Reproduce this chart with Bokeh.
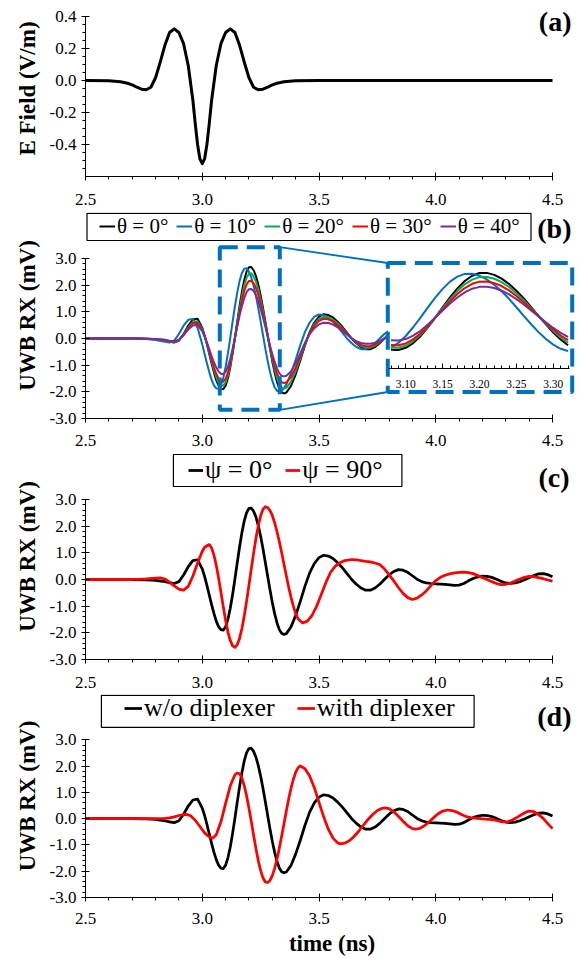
import numpy as np
from bokeh.plotting import figure
from bokeh.models import (Range1d, LinearAxis, SingleIntervalTicker, NumeralTickFormatter,
                          Legend, LegendItem, Label)
from bokeh.layouts import column
from bokeh.embed import file_html
from bokeh.resources import INLINE

SERIF = "'Liberation Serif', 'Times New Roman', serif"
BLACK = "#000000"
BLUE = "#0070C0"
GREEN = "#00B050"
RED = "#FF0000"
PURPLE = "#7030A0"

# ---------------- data ----------------
# (a) incident E field
t_a = [2.50, 2.60, 2.65, 2.68, 2.70, 2.72, 2.74, 2.76, 2.78, 2.80, 2.82, 2.84, 2.86, 2.88,
       2.90, 2.92, 2.94, 2.96, 2.97, 2.98, 2.99, 3.00, 3.01, 3.02, 3.03, 3.04, 3.06, 3.08,
       3.10, 3.12, 3.14, 3.16, 3.18, 3.20, 3.22, 3.24, 3.26, 3.28, 3.30, 3.32, 3.35, 3.40,
       3.50, 4.50]
e_a = [0.000, -0.002, -0.008, -0.017, -0.027, -0.042, -0.054, -0.058, -0.042, 0.017, 0.115,
       0.220, 0.300, 0.323, 0.300, 0.230, 0.094, -0.125, -0.270, -0.400, -0.490, -0.520,
       -0.490, -0.400, -0.270, -0.125, 0.094, 0.230, 0.300, 0.323, 0.300, 0.220, 0.115,
       0.017, -0.042, -0.058, -0.054, -0.042, -0.027, -0.017, -0.008, -0.002, 0.000, 0.000]

# time grid of the theta curves (b)
t_b = [2.50, 2.60, 2.70, 2.76, 2.80, 2.84, 2.86, 2.88, 2.90, 2.92, 2.94, 2.96, 2.98,
       3.00, 3.01, 3.02, 3.03, 3.04, 3.05, 3.06, 3.07, 3.08, 3.09, 3.10, 3.11, 3.12,
       3.13, 3.14, 3.15, 3.16, 3.17, 3.18, 3.19, 3.20, 3.21, 3.22, 3.23, 3.24, 3.25,
       3.26, 3.27, 3.28, 3.29, 3.30, 3.31, 3.32, 3.33, 3.34, 3.35, 3.36,
       3.38, 3.40, 3.42, 3.44, 3.46, 3.48, 3.50, 3.52, 3.54, 3.56, 3.58, 3.60, 3.62,
       3.64, 3.66, 3.68, 3.70, 3.72, 3.74, 3.76, 3.78, 3.80]
# black reference curve grid (theta = 0, psi = 0, w/o diplexer)
t_0 = t_b + [3.82, 3.84, 3.86, 3.88, 3.90, 3.92, 3.94, 3.96, 3.98, 4.00, 4.02, 4.04, 4.06,
             4.08, 4.10, 4.12, 4.14, 4.16, 4.18, 4.20, 4.22, 4.24, 4.26, 4.28, 4.30, 4.32,
             4.34, 4.36, 4.38, 4.40, 4.42, 4.44, 4.46, 4.48, 4.50]
rx_0 = [0.00, 0.00, 0.00, -0.01, -0.03, -0.08, -0.12, -0.15, -0.08, 0.17, 0.48, 0.71, 0.74,
        0.40, 0.12, -0.22, -0.58, -0.94, -1.27, -1.56, -1.77, -1.88, -1.90, -1.77, -1.49, -1.08,
        -0.56, 0.02, 0.64, 1.23, 1.76, 2.20, 2.51, 2.67, 2.68, 2.56, 2.34, 2.02, 1.62,
        1.16, 0.65, 0.13, -0.38, -0.86, -1.28, -1.62, -1.88, -2.02, -2.06, -2.03,
        -1.78, -1.35, -0.82, -0.25, 0.25, 0.60, 0.82, 0.91, 0.88, 0.79, 0.63, 0.44, 0.22,
        0.00, -0.18, -0.32, -0.40, -0.40, -0.32, -0.18, 0.00, 0.17,
        0.30, 0.37, 0.35, 0.27, 0.14, 0.01, -0.08, -0.13, -0.15, -0.16, -0.17, -0.18, -0.20,
        -0.22, -0.21, -0.15, -0.05, 0.04, 0.10, 0.13, 0.12, 0.08, 0.01, -0.07, -0.13, -0.15,
        -0.13, -0.08, -0.01, 0.07, 0.15, 0.21, 0.22, 0.18, 0.10]
rx_10 = [0.00, 0.00, 0.00, -0.02, -0.06, -0.12, -0.15, -0.08, 0.17, 0.48, 0.70, 0.73, 0.40,
         -0.22, -0.58, -0.93, -1.26, -1.55, -1.76, -1.87, -1.89, -1.76, -1.48, -1.07, -0.55, 0.02,
         0.63, 1.21, 1.73, 2.16, 2.46, 2.62, 2.63, 2.51, 2.29, 1.98, 1.59, 1.14, 0.64,
         0.13, -0.37, -0.84, -1.25, -1.58, -1.83, -1.96, -2.00, -1.97, -1.86, -1.73,
         -1.31, -0.80, -0.25, 0.25, 0.60, 0.82, 0.90, 0.88, 0.79, 0.63, 0.44, 0.22, 0.00,
         -0.18, -0.32, -0.40, -0.40, -0.32, -0.18, 0.00, 0.17, 0.30]
rx_20 = [0.00, 0.00, 0.00, -0.01, -0.03, -0.07, -0.11, -0.14, -0.07, 0.15, 0.42, 0.62, 0.65,
         0.35, 0.10, -0.20, -0.54, -0.87, -1.18, -1.45, -1.65, -1.75, -1.77, -1.65, -1.38, -1.00,
         -0.52, 0.02, 0.58, 1.12, 1.60, 2.00, 2.28, 2.43, 2.44, 2.33, 2.13, 1.84, 1.47,
         1.06, 0.59, 0.12, -0.35, -0.78, -1.16, -1.47, -1.71, -1.84, -1.87, -1.85,
         -1.62, -1.23, -0.75, -0.23, 0.22, 0.54, 0.73, 0.81, 0.79, 0.71, 0.57, 0.39, 0.19,
         0.00, -0.16, -0.28, -0.34, -0.34, -0.27, -0.15, 0.00, 0.15]
rx_30 = [0.00, 0.00, 0.00, -0.01, -0.02, -0.06, -0.10, -0.12, -0.06, 0.14, 0.39, 0.57, 0.59,
         0.32, 0.09, -0.18, -0.49, -0.80, -1.08, -1.33, -1.50, -1.60, -1.62, -1.51, -1.27, -0.92,
         -0.48, 0.02, 0.52, 1.00, 1.43, 1.78, 2.03, 2.16, 2.17, 2.07, 1.90, 1.64, 1.31,
         0.94, 0.53, 0.11, -0.31, -0.70, -1.04, -1.31, -1.52, -1.64, -1.67, -1.65,
         -1.45, -1.10, -0.67, -0.20, 0.20, 0.49, 0.66, 0.74, 0.72, 0.64, 0.51, 0.36, 0.18,
         0.00, -0.14, -0.24, -0.29, -0.29, -0.23, -0.13, 0.00, 0.13]
rx_40 = [0.00, 0.00, 0.00, -0.01, -0.02, -0.05, -0.08, -0.10, -0.05, 0.12, 0.34, 0.49, 0.51,
         0.28, 0.08, -0.15, -0.40, -0.66, -0.89, -1.09, -1.24, -1.32, -1.34, -1.25, -1.05, -0.76,
         -0.38, 0.03, 0.45, 0.86, 1.22, 1.52, 1.74, 1.85, 1.86, 1.78, 1.62, 1.40, 1.12,
         0.80, 0.45, 0.09, -0.26, -0.59, -0.88, -1.12, -1.30, -1.40, -1.42, -1.40,
         -1.24, -0.94, -0.56, -0.16, 0.16, 0.39, 0.53, 0.59, 0.58, 0.52, 0.42, 0.29, 0.14,
         0.00, -0.10, -0.17, -0.20, -0.20, -0.16, -0.09, 0.00, 0.09]

# (c) psi = 90 deg
t_c = [2.50, 2.60, 2.70, 2.76, 2.80, 2.82, 2.84, 2.86, 2.88, 2.90, 2.92, 2.94, 2.96, 2.98,
       3.00, 3.01, 3.03, 3.04, 3.05, 3.06, 3.07, 3.08, 3.09, 3.10, 3.11, 3.12, 3.13, 3.14,
       3.15, 3.16, 3.17, 3.18, 3.19, 3.20, 3.21, 3.22, 3.23, 3.24, 3.25, 3.26, 3.27, 3.28,
       3.29, 3.30, 3.31, 3.32, 3.33, 3.34, 3.35, 3.36, 3.37, 3.38, 3.39, 3.40, 3.41, 3.43,
       3.45, 3.47, 3.49, 3.51, 3.53, 3.55, 3.57, 3.59, 3.61, 3.64, 3.66, 3.68, 3.70, 3.72,
       3.74, 3.76, 3.78, 3.80, 3.82, 3.84, 3.86, 3.88, 3.90, 3.92, 3.94, 3.96, 3.98, 4.00,
       4.02, 4.04, 4.06, 4.08, 4.10, 4.12, 4.14, 4.16, 4.18, 4.20, 4.22, 4.24, 4.26, 4.28,
       4.30, 4.32, 4.34, 4.36, 4.38, 4.40, 4.42, 4.44, 4.46, 4.48, 4.50]
rx_90 = [0.00, 0.00, 0.00, 0.02, 0.05, 0.06, 0.02, -0.10, -0.24, -0.36, -0.40, -0.26, 0.13, 0.62,
         1.06, 1.21, 1.31, 1.18, 0.92, 0.53, 0.05, -0.48, -1.02, -1.53, -1.97, -2.29, -2.49, -2.54,
         -2.44, -2.20, -1.83, -1.36, -0.81, -0.21, 0.40, 1.00, 1.55, 2.02, 2.39, 2.63, 2.73, 2.70,
         2.59, 2.40, 2.13, 1.80, 1.42, 1.01, 0.57, 0.14, -0.28, -0.66, -1.00, -1.27, -1.47, -1.63,
         -1.56, -1.35, -1.00, -0.55, -0.10, 0.28, 0.50, 0.63, 0.71, 0.75, 0.74, 0.71, 0.68, 0.66,
         0.62, 0.56, 0.40, 0.18, -0.05, -0.30, -0.52, -0.68, -0.75, -0.70, -0.58, -0.42, -0.22, -0.04,
         0.08, 0.16, 0.21, 0.25, 0.27, 0.275, 0.26, 0.22, 0.15, 0.07, 0.00, -0.08, -0.15, -0.19,
         -0.18, -0.13, -0.06, 0.02, 0.08, 0.12, 0.11, 0.07, 0.03, -0.02, -0.06]

# (d) with diplexer
t_d = [2.50, 2.60, 2.70, 2.80, 2.84, 2.86, 2.88, 2.90, 2.92, 2.935, 2.95, 2.97, 2.99, 3.01,
       3.03, 3.045, 3.06, 3.08, 3.10, 3.12, 3.14, 3.15, 3.16, 3.17, 3.18, 3.19, 3.20, 3.21,
       3.22, 3.23, 3.24, 3.25, 3.26, 3.27, 3.28, 3.29, 3.30, 3.31, 3.32, 3.33, 3.34, 3.35,
       3.36, 3.37, 3.38, 3.39, 3.40, 3.41, 3.42, 3.44, 3.46, 3.48, 3.50, 3.52, 3.54, 3.56,
       3.58, 3.593, 3.61, 3.63, 3.65, 3.67, 3.69, 3.71, 3.73, 3.75, 3.77, 3.783, 3.80, 3.82,
       3.84, 3.86, 3.88, 3.90, 3.914, 3.93, 3.95, 3.97, 3.99, 4.01, 4.03, 4.05, 4.07, 4.09,
       4.11, 4.13, 4.15, 4.17, 4.19, 4.21, 4.23, 4.25, 4.27, 4.29, 4.31, 4.33, 4.35, 4.37,
       4.39, 4.40, 4.42, 4.44, 4.46, 4.48, 4.50]
rx_dip = [0.00, 0.00, 0.00, 0.00, 0.01, 0.03, 0.07, 0.12, 0.155, 0.16, 0.11, -0.06, -0.30, -0.54,
          -0.70, -0.74, -0.61, -0.12, 0.58, 1.25, 1.67, 1.74, 1.71, 1.54, 1.25, 0.86, 0.40, -0.11,
          -0.63, -1.14, -1.60, -1.97, -2.25, -2.41, -2.43, -2.35, -2.17, -1.89, -1.54, -1.13, -0.67, -0.19,
          0.28, 0.75, 1.15, 1.49, 1.76, 1.93, 2.01, 1.90, 1.62, 1.18, 0.62, 0.07, -0.40, -0.74,
          -0.92, -0.96, -0.93, -0.84, -0.68, -0.48, -0.25, -0.03, 0.16, 0.31, 0.395, 0.41, 0.38, 0.26,
          0.09, -0.10, -0.27, -0.38, -0.40, -0.375, -0.28, -0.135, 0.03, 0.185, 0.29, 0.33, 0.31, 0.25,
          0.16, 0.08, 0.04, 0.02, 0.00, -0.02, -0.03, -0.05, -0.09, -0.12, -0.11, -0.04, 0.06, 0.17,
          0.26, 0.29, 0.27, 0.16, 0.01, -0.19, -0.38]

theta_labels = ["θ = 0°", "θ = 10°", "θ = 20°", "θ = 30°", "θ = 40°"]
psi_labels = ["ψ = 0°", "ψ = 90°"]
dip_labels = ["w/o diplexer", "with diplexer"]
panel_tags = ["(a)", "(b)", "(c)", "(d)"]

# zoomed window shown in the inset of (b)
ZOOM_T = (3.077, 3.322)

# ---------------- layout ----------------
FIG_W = 584
BORDER_L = 85
BORDER_R = 6
FRAME_W = FIG_W - BORDER_L - BORDER_R
PX_NS = 233.5
X0 = 2.5
X1 = X0 + FRAME_W / PX_NS
U = 160.0 / 6


def to_x(px):  # page px -> time
    return X0 + (px - BORDER_L) / PX_NS


def style_axis(ax, fs="17px"):
    ax.axis_line_color = "black"
    ax.axis_line_width = 1
    ax.major_tick_in = 4
    ax.major_tick_out = 4
    ax.minor_tick_in = 0
    ax.minor_tick_out = 3
    ax.major_tick_line_color = "black"
    ax.minor_tick_line_color = "black"
    ax.major_label_text_font = SERIF
    ax.major_label_text_font_size = fs
    ax.major_label_text_color = "black"
    ax.axis_label_text_font = SERIF
    ax.axis_label_text_font_style = "bold"
    ax.axis_label_text_font_size = "23px"
    ax.axis_label_text_color = "black"


def make_fig(height, border_bottom, y_lo, px_unit, y_bounds, y_int, y_minor, ylabel,
             xlabel=None, x_standoff=12):
    frame_h = height - border_bottom
    y_hi = y_lo + frame_h / px_unit
    p = figure(width=FIG_W, height=height, x_range=Range1d(X0, X1), y_range=Range1d(y_lo, y_hi),
               output_backend="svg", toolbar_location=None,
               min_border_left=BORDER_L, min_border_right=BORDER_R,
               min_border_top=0, min_border_bottom=border_bottom,
               outline_line_color=None, background_fill_color="white", border_fill_color="white")
    p.grid.visible = False
    xa = p.xaxis[0]
    ya = p.yaxis[0]
    style_axis(xa)
    style_axis(ya)
    xa.ticker = SingleIntervalTicker(interval=0.5, num_minor_ticks=5)
    xa.formatter = NumeralTickFormatter(format="0.0")
    xa.bounds = (2.5, 4.5)
    xa.major_label_standoff = x_standoff
    ya.ticker = SingleIntervalTicker(interval=y_int, num_minor_ticks=y_minor)
    ya.formatter = NumeralTickFormatter(format="0.0")
    ya.bounds = y_bounds
    ya.major_label_standoff = 5
    ya.axis_label = ylabel
    ya.axis_label_standoff = 7
    if xlabel:
        xa.axis_label = xlabel
        xa.axis_label_standoff = 4
    return p, frame_h


def tag(p, text, x, y):
    p.add_layout(Label(x=x, y=y, text=text, text_font=SERIF, text_font_style="bold",
                       text_font_size="28px", text_align="right", text_baseline="middle",
                       text_color="black"))


def legend_box(p, l, r, b, t):
    p.quad(left=[l], right=[r], bottom=[b], top=[t], fill_color=None,
           line_color="black", line_width=1.2)


def make_legend(p, items, loc, fs, h, gw, spacing):
    leg = Legend(items=items, orientation="horizontal", location=loc,
                 glyph_width=gw, glyph_height=h, label_height=h, label_standoff=2,
                 spacing=spacing, padding=0, margin=0,
                 border_line_alpha=0, background_fill_alpha=0,
                 label_text_font=SERIF, label_text_font_size=fs, label_text_color="black")
    p.add_layout(leg)


theta_colors = [BLACK, BLUE, GREEN, RED, PURPLE]

# ---- (a)  page rows 0..212, frame 0..176
pa, _ = make_fig(212, 36, -0.6, 160.0, (-0.6, 0.4), 0.2, 4, "E Field (V/m)", x_standoff=13)
pa.line(t_a, e_a, line_color=BLACK, line_width=3, line_join="round")
tag(pa, panel_tags[0], to_x(571), -0.6 + (176 - 20.5) / 160.0)

# ---- (b)  page rows 212..453, frame 212..418 (legend row inside the frame)
pb, fhb = make_fig(241, 35, -3.0, U, (-3.0, 3.0), 1.0, 5, "UWB RX (mV)")
rend_b = [pb.line(t_0, rx_0, line_color=BLACK, line_width=2, line_join="round")]
for ys, c in zip([rx_10, rx_20, rx_30, rx_40], theta_colors[1:]):
    rend_b.append(pb.line(t_b, ys, line_color=c, line_width=2, line_join="round"))

# inset geometry (frame px)
in_px0, in_px1 = 388.3 - BORDER_L, 569.0 - BORDER_L
kx = (in_px1 - in_px0) / (ZOOM_T[1] - ZOOM_T[0])
ix0 = ZOOM_T[0] - in_px0 / kx
ix1 = ix0 + FRAME_W / kx
ky = 101.0 / 6
iy0 = -3.0 - 50.0 / ky
iy1 = iy0 + fhb / ky
pb.extra_x_ranges = {"ix": Range1d(ix0, ix1)}
pb.extra_y_ranges = {"iy": Range1d(iy0, iy1)}

box_in = dict(left=[to_x(387.3)], right=[to_x(571.7)], bottom=[-2.006], top=[2.831])
box_sm = dict(left=[to_x(219.3)], right=[to_x(279.3)], bottom=[-2.674], top=[3.424])
pb.quad(**box_in, fill_color="white", line_color=None)
tb_arr = np.array(t_b)
mask = (tb_arr >= ZOOM_T[0]) & (tb_arr <= ZOOM_T[1])
for ys, c in zip([rx_0[:len(t_b)], rx_10, rx_20, rx_30, rx_40], theta_colors):
    pb.line(tb_arr[mask], np.array(ys)[mask], line_color=c, line_width=2,
            x_range_name="ix", y_range_name="iy", line_join="round")
pb.quad(**box_in, fill_color=None, line_color=BLUE, line_width=4, line_dash="18 9")
pb.quad(**box_sm, fill_color=None, line_color=BLUE, line_width=4, line_dash="18 9")
pb.segment(x0=[box_sm["right"][0], box_sm["right"][0]], y0=[box_sm["top"][0], box_sm["bottom"][0]],
           x1=[box_in["left"][0], box_in["left"][0]], y1=[box_in["top"][0], box_in["bottom"][0]],
           line_color=BLUE, line_width=1.8)

in_ax = LinearAxis(x_range_name="ix", y_range_name="iy", fixed_location=-3.0, bounds=ZOOM_T,
                   ticker=SingleIntervalTicker(interval=0.05, num_minor_ticks=5),
                   formatter=NumeralTickFormatter(format="0.00"))
in_ax.axis_line_color = "black"
in_ax.major_tick_in = 0
in_ax.major_tick_out = 5
in_ax.minor_tick_in = 0
in_ax.minor_tick_out = 3
in_ax.major_label_text_font = SERIF
in_ax.major_label_text_font_size = "11.5px"
in_ax.major_label_text_color = "black"
in_ax.major_label_standoff = -24
pb.add_layout(in_ax, "above")

make_legend(pb, [LegendItem(label=l, renderers=[r]) for l, r in zip(theta_labels, rend_b)],
            (14, 179), "21px", 26, 16, 8)
legend_box(pb, to_x(86.5), to_x(530.5), -3.0 + (418 - 240.0) / U, -3.0 + (418 - 212.8) / U)
tag(pb, panel_tags[1], to_x(571), -3.0 + (418 - 227.5) / U)

# ---- (c)  page rows 453..694, frame 453..659
pc, _ = make_fig(241, 35, -3.0, U, (-3.0, 3.0), 1.0, 5, "UWB RX (mV)", x_standoff=13)
rc0 = pc.line(t_0, rx_0, line_color=BLACK, line_width=2.75, line_join="round")
rc1 = pc.line(t_c, rx_90, line_color=RED, line_width=2.75, line_join="round")
make_legend(pc, [LegendItem(label=psi_labels[0], renderers=[rc0]),
                 LegendItem(label=psi_labels[1], renderers=[rc1])],
            (103, 173), "26px", 32, 15, 13)
legend_box(pc, to_x(172.9), to_x(401.4), -3.0 + (659 - 486.0) / U, -3.0 + (659 - 454.0) / U)
tag(pc, panel_tags[2], to_x(569), -3.0 + (659 - 476.7) / U)

# ---- (d)  page rows 694..958, frame 694..900
pd_, _ = make_fig(264, 58, -3.0, U, (-3.0, 3.0), 1.0, 5, "UWB RX (mV)", xlabel="time (ns)",
                  x_standoff=11)
rd0 = pd_.line(t_0, rx_0, line_color=BLACK, line_width=2.75, line_join="round")
rd1 = pd_.line(t_d, rx_dip, line_color=RED, line_width=2.75, line_join="round")
make_legend(pd_, [LegendItem(label=dip_labels[0], renderers=[rd0]),
                  LegendItem(label=dip_labels[1], renderers=[rd1])],
            (39, 173), "26px", 32, 18, 22)
legend_box(pd_, to_x(100.9), to_x(473.6), -3.0 + (900 - 727.3) / U, -3.0 + (900 - 694.8) / U)
tag(pd_, panel_tags[3], to_x(571), -3.0 + (900 - 716) / U)

layout = column(pa, pb, pc, pd_, spacing=0)
open("out.html", "w").write(file_html(layout, INLINE))
